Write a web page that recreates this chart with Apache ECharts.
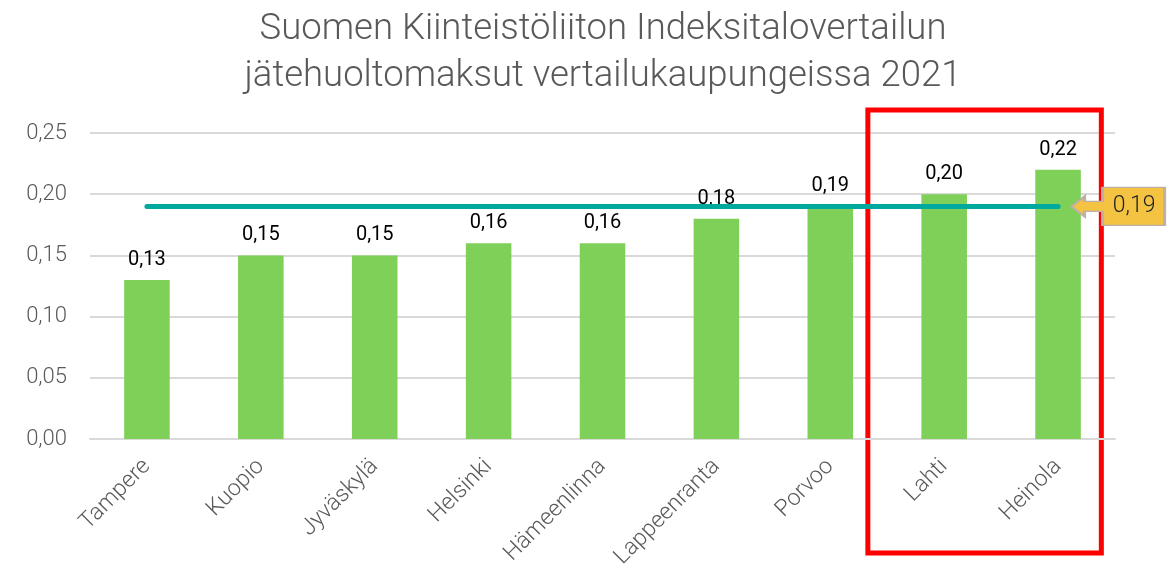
<!DOCTYPE html>
<html>
<head>
<meta charset="utf-8">
<script src="https://cdn.jsdelivr.net/npm/echarts@6/dist/echarts.min.js"></script>
<style>
  html, body { margin: 0; padding: 0; background: #fff; }
  #chart { width: 1175px; height: 568px; }
</style>
</head>
<body>
<div id="chart"></div>
<script>
// kaupungit ja jätehuoltomaksut (€/m3/kk)
const cities = ['Tampere', 'Kuopio', 'Jyväskylä', 'Helsinki', 'Hämeenlinna', 'Lappeenranta', 'Porvoo', 'Lahti', 'Heinola']
const fees = [0.13, 0.15, 0.15, 0.16, 0.16, 0.18, 0.19, 0.20, 0.22]
const average = 0.19
const yTicks = [0, 0.05, 0.10, 0.15, 0.20, 0.25]

const fmt = v => v.toFixed(2).replace('.', ',')

const myChart = echarts.init(document.getElementById('chart'))

const option = {
  animation: false,
  textStyle: { fontFamily: 'Roboto' },
  title: {
    text: 'Suomen Kiinteistöliiton Indeksitalovertailun\njätehuoltomaksut vertailukaupungeissa 2021',
    left: 598,
    top: 1,
    textAlign: 'center',
    textStyle: {
      fontSize: 36.5,
      fontWeight: 300,
      color: '#595959',
      lineHeight: 47
    }
  },
  grid: {
    left: 90,
    right: 60,
    top: 133,
    bottom: 129,
    outerBoundsMode: 'none'
  },
  xAxis: {
    type: 'category',
    data: cities,
    axisTick: { show: false },
    axisLine: { lineStyle: { color: '#D9D9D9', width: 2 } },
    axisLabel: {
      rotate: 45,
      margin: 24,
      fontSize: 23,
      fontWeight: 300,
      color: '#595959'
    }
  },
  yAxis: {
    type: 'value',
    min: yTicks[0],
    max: yTicks[yTicks.length - 1],
    interval: 0.05,
    axisLabel: {
      fontSize: 22,
      fontWeight: 300,
      color: '#595959',
      margin: 23,
      formatter: v => fmt(v)
    },
    splitLine: { lineStyle: { color: '#D9D9D9', width: 2 } }
  },
  series: [
    {
      type: 'bar',
      data: fees,
      barWidth: '40%',
      itemStyle: { color: '#7ED058' },
      label: {
        show: true,
        position: 'top',
        distance: 10,
        fontSize: 20,
        color: '#000',
        formatter: p => fmt(p.value)
      },
      markLine: {
        silent: true,
        symbol: 'none',
        label: { show: false },
        lineStyle: { color: '#00A99D', width: 5, type: 'solid', cap: 'round' },
        data: [[
          { coord: [0, average] },
          { coord: [cities.length - 1, average] }
        ]]
      },
      markPoint: {
        silent: true,
        symbol: 'path://M0 19 L13 9 L13 14 L31 14 L31 0 L93 0 L93 38 L31 38 L31 24 L13 24 L13 29 Z',
        symbolSize: [93, 38],
        symbolKeepAspect: false,
        symbolOffset: [60, 0],
        itemStyle: { color: '#F5C342', borderColor: '#BDB0A6', borderWidth: 2 },
        label: {
          show: true,
          position: 'inside',
          offset: [16, 0],
          fontSize: 23,
          fontWeight: 300,
          color: '#222',
          formatter: () => fmt(average)
        },
        data: [{ coord: [cities.length - 1, average] }]
      }
    }
  ]
}

myChart.setOption(option)

// punainen korostuslaatikko Lahti ja Heinola ympärille
const c7 = myChart.convertToPixel({ xAxisIndex: 0 }, cities[7])
const c8 = myChart.convertToPixel({ xAxisIndex: 0 }, cities[8])
const band = c8 - c7
myChart.setOption({
  graphic: [{
    type: 'rect',
    shape: {
      x: c7 - band * 0.67,
      y: 110,
      width: (c8 + band * 0.38) - (c7 - band * 0.67),
      height: 443
    },
    style: { fill: 'none', stroke: '#FF0000', lineWidth: 5 },
    silent: true
  }]
})
</script>
</body>
</html>
